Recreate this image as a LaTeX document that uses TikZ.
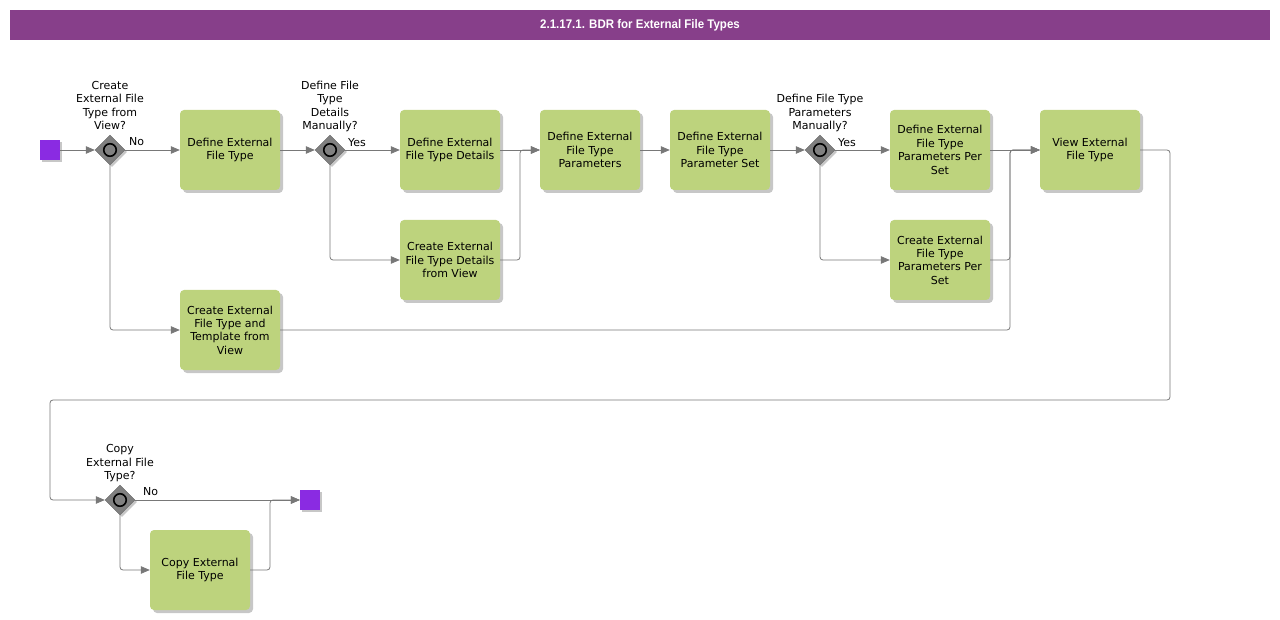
\documentclass[tikz,border=0pt]{standalone}
\usepackage{fontspec}
\setmainfont{DejaVu Sans}
\newfontfamily\titlefont[FakeStretch=0.92]{Liberation Sans}
\usetikzlibrary{shapes.geometric,arrows.meta,shadows,calc}
\definecolor{titlebar}{RGB}{135,63,138}
\definecolor{taskgreen}{RGB}{189,211,125}
\definecolor{gategray}{RGB}{128,128,128}
\definecolor{eventpurple}{RGB}{138,43,226}
\definecolor{linegray}{RGB}{120,120,120}
\tikzset{
  txt/.style={font=\fontsize{11}{13.4}\selectfont},
  task/.style={txt, rectangle, rounded corners=4pt, fill=taskgreen, minimum width=100pt,
    minimum height=80pt, inner sep=0pt, align=center,
    drop shadow={shadow xshift=3pt, shadow yshift=-3pt, fill=black, opacity=0.22}},
  gate/.style={diamond, aspect=1, fill=gategray, draw=gategray!80!black, line width=0.4pt,
    minimum width=30pt, minimum height=30pt, inner sep=0pt,
    drop shadow={shadow xshift=2pt, shadow yshift=-2pt, fill=black, opacity=0.22}},
  gring/.style={circle, draw=black, line width=1.6pt, fill=gategray, minimum size=12.5pt, inner sep=0pt},
  event/.style={rectangle, fill=eventpurple, minimum width=20pt, minimum height=20pt, inner sep=0pt,
    drop shadow={shadow xshift=2pt, shadow yshift=-2pt, fill=black, opacity=0.22}},
  glabel/.style={txt, align=center, anchor=south, inner sep=0pt},
  flabel/.style={txt, anchor=base west, inner sep=0pt},
  flow/.style={draw=linegray, line width=0.8pt, rounded corners=3pt,
    -{Triangle[length=9pt,width=7.5pt]}},
}
\begin{document}
\begin{tikzpicture}[x=1pt,y=-1pt]
\useasboundingbox (0,0) rectangle (1280,620);

% title
\node (title) [fill=titlebar, minimum width=1260pt, minimum height=30pt, inner sep=0pt,
  text=white, font=\titlefont\bfseries\fontsize{12.5}{14}\selectfont] at (640,25)
  {2.1.17.1. BDR for External File Types};

% events
\node (s) [event] at (50,150) {};
\node (e) [event] at (310,500) {};

% gateways
\node (g1) [gate] at (110,150) {};
\node (g1c) [gring] at (g1) {};
\node (g2) [gate] at (330,150) {};
\node (g2c) [gring] at (g2) {};
\node (g3) [gate] at (820,150) {};
\node (g3c) [gring] at (g3) {};
\node (g4) [gate] at (120,500) {};
\node (g4c) [gring] at (g4) {};

% gateway labels
\node (g1l) [glabel] at (110,134) {Create\\External File\\Type from\\View?\strut};
\node (g2l) [glabel] at (330,134) {Define File\\Type\\Details\\Manually?\strut};
\node (g3l) [glabel] at (820,134) {Define File Type\\Parameters\\Manually?\strut};
\node (g4l) [glabel] at (120,484) {Copy\\External File\\Type?\strut};

% tasks
\node (t1) [task] at (230,150) {Define External\\File Type};
\node (t2) [task] at (450,150) {Define External\\File Type Details};
\node (t3) [task] at (450,260) {Create External\\File Type Details\\from View};
\node (t5) [task] at (590,150) {Define External\\File Type\\Parameters};
\node (t6) [task] at (720,150) {Define External\\File Type\\Parameter Set};
\node (t8) [task] at (940,150) {Define External\\File Type\\Parameters Per\\Set};
\node (t9) [task] at (940,260) {Create External\\File Type\\Parameters Per\\Set};
\node (v)  [task] at (1090,150) {View External\\File Type};
\node (t7) [task] at (230,330) {Create External\\File Type and\\Template from\\View};
\node (t10) [task] at (200,570) {Copy External\\File Type};

% helper coordinates
\coordinate (m1) at (520,150);
\coordinate (m2) at (1010,150);
\coordinate (c1) at (1170,400);
\coordinate (c2) at (50,400);
\coordinate (m3) at (270,500);

% flows
\draw[flow] (s) -- (g1);
\draw[flow] (g1) -- (t1);
\draw[flow] (g1.south) |- (t7.west);
\draw[flow] (t1) -- (g2);
\draw[flow] (g2) -- (t2);
\draw[flow] (g2.south) |- (t3.west);
\draw[flow] (t2) -- (t5);
\draw[flow] (t3.east) -| (m1) -- (t5.west);
\draw[flow] (t5) -- (t6);
\draw[flow] (t6) -- (g3);
\draw[flow] (g3) -- (t8);
\draw[flow] (g3.south) |- (t9.west);
\draw[flow] (t8) -- (v);
\draw[flow] (t9.east) -| (m2) -- (v.west);
\draw[flow] (t7.east) -| (m2) -- (v.west);
\draw[flow] (v.east) -| (c1) -- (c2) |- (g4.west);
\draw[flow] (g4) -- (e);
\draw[flow] (g4.south) |- (t10.west);
\draw[flow] (t10.east) -| (m3) -- (e.west);

% flow labels
\node (n1) [flabel] at (129,146) {No};
\node (y1) [flabel] at (348,147) {Yes};
\node (y2) [flabel] at (838,147) {Yes};
\node (n2) [flabel] at (143,495) {No};
\end{tikzpicture}
\end{document}
